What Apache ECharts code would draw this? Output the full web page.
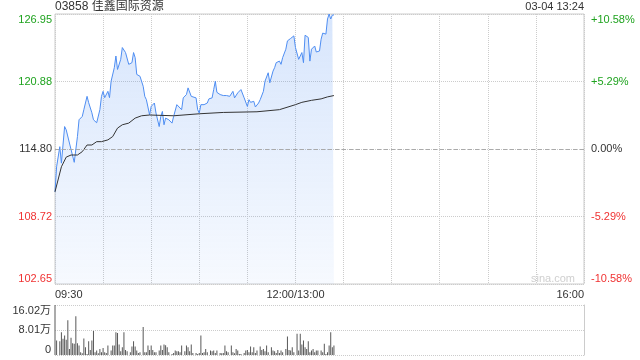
<!DOCTYPE html>
<html><head><meta charset="utf-8">
<script src="https://cdn.jsdelivr.net/npm/echarts@6/dist/echarts.min.js"></script>
<style>html,body{margin:0;padding:0;background:#fff}#c{width:640px;height:360px}</style>
</head><body><div id="c"></div>
<script>
const stockTitle = '03858 佳鑫国际资源';
const stampText = '03-04 13:24';
const watermark = 'sina.com';
const prevClose = 114.80;
const priceTickLabels = ['102.65', '108.72', '114.80', '120.88', '126.95'];
const pctTickLabels = ['-10.58%', '-5.29%', '0.00%', '+5.29%', '+10.58%'];
const volTickLabels = ['0', '8.01万', '16.02万'];
const timeTickMinutes = [0, 150, 330];
const timeTickLabels = ['09:30', '12:00/13:00', '16:00'];

const priceMinutes = [0,1,3,4,6,7,9,10,12,14,15,17,18,20,21,23,24,26,28,29,30,31,33,34,35,37,38,39,41,42,44,45,46,48,49,50,51,53,55,56,57,59,60,62,63,65,66,67,68,69,71,72,73,74,76,77,79,80,82,83,85,86,88,89,90,91,93,95,96,98,99,100,101,103,105,107,109,111,112,114,116,118,120,121,122,124,125,127,128,130,131,132,133,134,136,137,138,140,141,142,144,145,147,149,150,151,152,154,155,156,158,159,160,162,163,165,166,167,169,170,171,172,173,174];
const prices = [110.95,113.20,115.01,113.53,116.82,116.52,115.34,115.16,113.60,115.92,117.43,117.73,118.34,119.54,118.97,118.06,117.43,117.16,118.34,119.54,119.99,119.42,119.99,119.42,120.90,122.12,123.17,121.96,122.87,123.93,123.48,123.32,122.42,122.57,123.48,123.02,121.51,121.35,120.45,119.54,119.24,117.88,118.63,118.94,118.04,116.82,117.73,118.18,116.98,117.58,117.43,117.43,117.13,117.73,118.79,118.63,118.34,119.40,119.70,120.30,119.54,119.40,119.40,118.34,118.04,118.79,118.79,118.94,119.31,119.40,120.15,120.90,119.90,119.70,119.61,119.61,119.54,119.99,119.40,119.85,120.15,119.40,118.63,119.24,119.00,119.09,118.58,118.94,119.24,119.99,120.90,121.06,121.66,120.76,121.81,122.12,122.57,122.71,122.42,123.02,123.78,124.53,124.75,124.98,123.93,123.78,122.87,123.48,122.57,125.04,124.84,122.71,123.78,124.07,123.53,123.62,124.68,125.23,125.14,126.50,126.95,126.50,126.86,126.86];

const avgMinutes = [0,4,7,10,14,17,20,23,26,29,33,36,39,42,46,50,54,59,74,90,105,126,140,150,154,160,166,170,174];
const avgPrices = [110.95,113.20,114.07,114.26,114.26,114.56,115.16,115.16,115.46,115.46,115.62,115.92,116.68,116.98,117.13,117.58,117.79,117.86,117.79,117.97,118.09,118.15,118.34,118.79,119.00,119.18,119.31,119.49,119.61];

const volMinutes = [0,1,3,4,5,6,7,8,9,10,11,12,13,14,15,16,17,18,19,20,21,22,23,24,25,26,27,28,29,30,31,32,33,35,36,37,38,39,40,41,42,43,44,45,47,48,49,50,51,52,53,55,56,57,58,59,60,61,62,63,65,66,67,68,69,70,71,73,74,75,76,77,78,79,81,82,83,84,85,86,88,89,90,91,92,93,94,95,97,98,99,100,101,103,104,105,106,107,108,110,111,112,113,114,115,116,118,119,120,121,122,123,124,125,126,128,129,130,131,132,133,135,136,137,138,139,140,141,142,144,145,146,147,148,149,151,152,153,154,155,156,157,158,159,160,161,162,163,164,166,167,168,169,170,171,172,173,174];
const volumes = [16.02,4.65,4.44,7.25,5.20,6.28,4.87,11.15,1.95,5.52,3.79,3.57,12.45,3.79,3.03,0.87,0.54,5.30,2.49,0.32,4.44,1.62,4.65,7.69,0.87,1.41,0.54,1.95,0.87,2.27,0.87,0.65,3.03,1.41,3.03,3.03,7.25,7.04,3.36,1.19,2.49,7.25,1.62,1.19,0.87,2.71,4.44,2.71,1.41,0.65,0.87,8.98,0.87,0.87,3.03,1.62,3.03,1.62,0.87,0.87,1.41,3.03,1.62,3.36,3.14,2.49,0.87,0.32,0.65,1.41,1.19,1.19,0.87,3.03,1.19,3.03,2.49,1.19,3.36,0.65,0.65,0.32,0.65,6.28,0.65,0.87,1.95,0.87,1.41,1.19,1.41,0.65,1.41,0.65,0.54,0.65,3.03,1.19,0.87,3.03,0.87,0.54,1.95,1.41,0.32,0.32,0.65,1.41,1.62,0.87,2.71,0.87,2.49,0.65,1.41,2.71,1.62,1.95,1.19,3.03,0.87,2.49,1.41,1.19,0.65,1.62,0.65,1.41,0.87,1.95,5.95,1.62,1.41,2.49,0.87,6.82,1.41,6.82,3.36,4.65,2.49,1.95,4.44,0.87,1.41,1.95,0.87,1.41,1.41,1.41,0.87,3.57,0.32,0.87,3.03,7.25,2.49,3.03];

const FONT = 'Arial, "Liberation Sans", "Noto Sans CJK SC", sans-serif';
const halfRange = Math.round((parseFloat(priceTickLabels[4]) - prevClose) * 100) / 100;
const step = halfRange / 2;
const volMax = parseFloat(volTickLabels[2]);
const GREEN = '#1fa31f', RED = '#f03232', DARK = '#333';

function tickIndex(v) { return Math.round((v + halfRange) / step); }
function colorKey(i) { return i > 2 ? 'g' : (i < 2 ? 'r' : 'n'); }
const rich = {
  g: { color: GREEN, fontSize: 11, fontFamily: FONT },
  r: { color: RED, fontSize: 11, fontFamily: FONT },
  n: { color: DARK, fontSize: 11, fontFamily: FONT }
};

const chart = echarts.init(document.getElementById('c'), null, { renderer: 'canvas' });
chart.setOption({
  animation: false,
  textStyle: { fontFamily: FONT },
  title: [
    { text: stockTitle, left: 55, top: 1, padding: 0,
      textStyle: { fontSize: 12, fontWeight: 'normal', color: DARK, fontFamily: FONT } },
    { text: stampText, right: 56, top: 1, padding: 0,
      textStyle: { fontSize: 11, fontWeight: 'normal', color: DARK, fontFamily: FONT } }
  ],
  graphic: [{
    type: 'text', left: 531, top: 273, silent: true,
    style: { text: watermark, fill: '#cfcfcf', font: '11px ' + FONT }
  }],
  grid: [
    { left: 55, right: 56, top: 14, height: 270, show: true, borderColor: '#ccc', borderWidth: 1, backgroundColor: 'transparent' },
    { left: 55, right: 56, top: 305, height: 50 }
  ],
  xAxis: [
    { gridIndex: 0, type: 'value', min: 0, max: 330, interval: 30,
      axisLine: { show: false }, axisTick: { show: false },
      axisLabel: { fontSize: 11, color: DARK, margin: 5, showMinLabel: true, showMaxLabel: true,
        alignMinLabel: 'left', alignMaxLabel: 'right',
        formatter: v => { const k = timeTickMinutes.indexOf(Math.round(v)); return k >= 0 ? timeTickLabels[k] : ''; } },
      splitLine: { show: true, lineStyle: { color: '#ccc', type: 'dotted', width: 1 } } },
    { gridIndex: 1, type: 'value', min: 0, max: 330, interval: 30,
      axisLine: { show: false }, axisTick: { show: false }, axisLabel: { show: false }, splitLine: { show: false } }
  ],
  yAxis: [
    { gridIndex: 0, type: 'value', position: 'left', min: -halfRange, max: halfRange, interval: step,
      axisLine: { show: false }, axisTick: { show: false },
      axisLabel: { margin: 3, fontSize: 11, verticalAlignMinLabel: 'bottom', verticalAlignMaxLabel: 'top',
        formatter: v => { const i = tickIndex(v); return '{' + colorKey(i) + '|' + priceTickLabels[i] + '}'; }, rich: rich },
      splitLine: { show: true, lineStyle: { color: '#ccc', type: 'dotted', width: 1 } } },
    { gridIndex: 0, type: 'value', position: 'right', min: -halfRange, max: halfRange, interval: step,
      axisLine: { show: false }, axisTick: { show: false },
      axisLabel: { margin: 7, fontSize: 11, verticalAlignMinLabel: 'bottom', verticalAlignMaxLabel: 'top',
        formatter: v => { const i = tickIndex(v); return '{' + colorKey(i) + '|' + pctTickLabels[i] + '}'; }, rich: rich },
      splitLine: { show: false } },
    { gridIndex: 1, type: 'value', position: 'left', min: 0, max: volMax, interval: volMax / 2,
      axisLine: { show: false }, axisTick: { show: false },
      axisLabel: { margin: 4, fontSize: 11, color: DARK, verticalAlignMinLabel: 'bottom', verticalAlignMaxLabel: 'top',
        formatter: v => volTickLabels[Math.round(v / (volMax / 2))] },
      splitLine: { show: true, lineStyle: { color: '#ccc', type: 'dotted', width: 1 } } },
    { gridIndex: 1, type: 'value', position: 'right', min: 0, max: volMax,
      axisLine: { show: true, lineStyle: { color: '#ccc', width: 1 } }, axisTick: { show: false },
      axisLabel: { show: false }, splitLine: { show: false } }
  ],
  series: [
    { type: 'line', name: 'price', xAxisIndex: 0, yAxisIndex: 0, symbol: 'none', z: 3,
      data: priceMinutes.map((m, i) => [m, +(prices[i] - prevClose).toFixed(2)]),
      lineStyle: { color: '#4f8ef2', width: 1 },
      areaStyle: { origin: 'start', color: new echarts.graphic.LinearGradient(0, 0, 0, 1, [
        { offset: 0, color: 'rgba(79,142,242,0.32)' }, { offset: 1, color: 'rgba(79,142,242,0.07)' }]) },
      markLine: { silent: true, symbol: 'none', label: { show: false },
        lineStyle: { color: '#aaa', type: [4, 3], width: 1 }, data: [{ yAxis: 0 }] } },
    { type: 'line', name: 'avg', xAxisIndex: 0, yAxisIndex: 0, symbol: 'none', z: 4,
      data: avgMinutes.map((m, i) => [m, +(avgPrices[i] - prevClose).toFixed(2)]),
      lineStyle: { color: '#333', width: 1 } },
    { type: 'bar', name: 'vol', xAxisIndex: 1, yAxisIndex: 2, barWidth: 1,
      data: volMinutes.map((m, i) => [m, volumes[i]]),
      itemStyle: { color: '#585858' } }
  ]
});
</script></body></html>
